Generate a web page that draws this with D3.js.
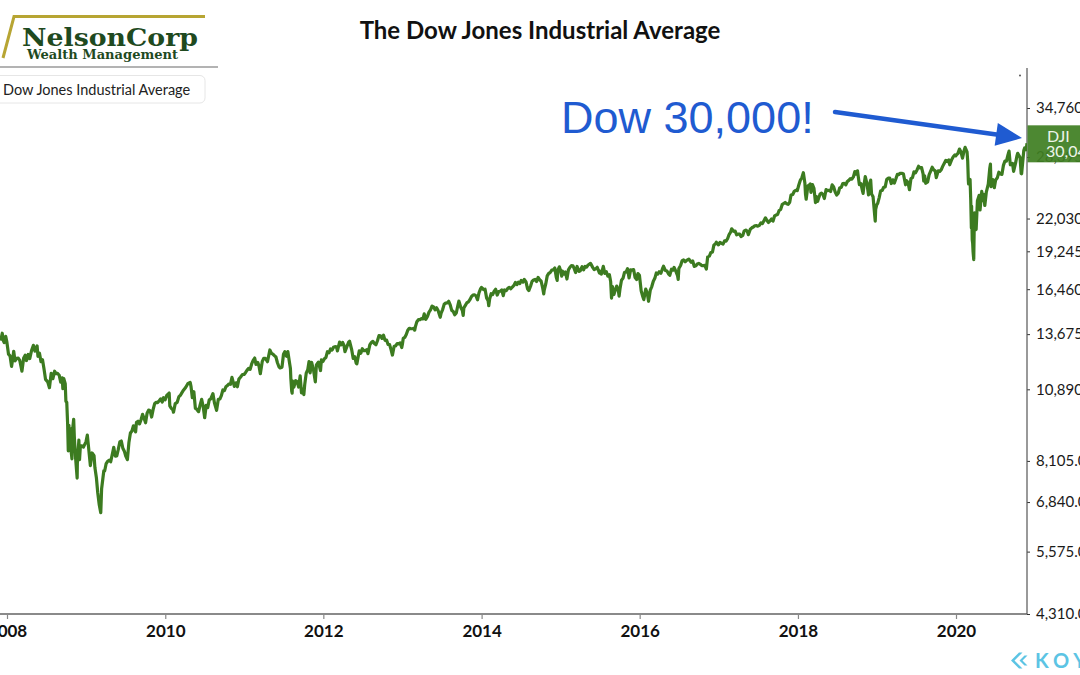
<!DOCTYPE html>
<html>
<head>
<meta charset="utf-8">
<script src="https://cdn.jsdelivr.net/npm/d3@7"></script>
<style>
  body { margin: 0; background: #fff; overflow: hidden; }
  svg { display: block; }
</style>
</head>
<body>
<div id="chart"></div>
<script>
var width = 1080,
    height = 675;

// Dow Jones Industrial Average closes (roughly weekly)
var dowCloses = [
  ["2007-12-03",13314],["2007-12-10",13727],["2007-12-14",13339],["2007-12-19",13207],["2007-12-26",13551],["2007-12-31",13265],
  ["2008-01-08",12589],["2008-01-15",12501],["2008-01-22",11971],["2008-01-28",12384],["2008-02-01",12743],["2008-02-07",12248],["2008-02-14",12376],["2008-02-22",12381],["2008-02-29",12266],["2008-03-07",11894],["2008-03-10",11740],["2008-03-18",12392],["2008-03-25",12533],["2008-03-31",12263],["2008-04-08",12577],["2008-04-15",12362],["2008-04-23",12763],["2008-05-02",13058],["2008-05-09",12745],["2008-05-19",13028],["2008-05-23",12480],["2008-05-30",12638],["2008-06-06",12209],["2008-06-13",12308],["2008-06-20",11843],["2008-06-27",11347],["2008-07-07",11231],["2008-07-15",10962],["2008-07-23",11632],["2008-07-31",11378],["2008-08-08",11734],["2008-08-14",11616],["2008-08-22",11628],["2008-08-29",11544],["2008-09-05",11220],["2008-09-12",11421],["2008-09-15",10918],["2008-09-19",11388],["2008-09-26",11143],["2008-09-29",10365],["2008-10-03",10325],["2008-10-07",9447],["2008-10-10",8451],["2008-10-13",9387],["2008-10-15",8578],["2008-10-20",9265],["2008-10-22",8519],["2008-10-27",8176],["2008-10-28",9065],["2008-11-04",9625],["2008-11-07",8943],["2008-11-12",8283],["2008-11-20",7552],["2008-11-21",8046],["2008-11-28",8829],["2008-12-01",8149],["2008-12-05",8635],["2008-12-12",8629],["2008-12-19",8579],["2008-12-31",8776],
  ["2009-01-06",9015],["2009-01-13",8474],["2009-01-20",7950],["2009-01-28",8375],["2009-02-06",8280],["2009-02-10",7888],["2009-02-17",7553],["2009-02-23",7115],["2009-03-02",6763],["2009-03-09",6547],["2009-03-13",7224],["2009-03-23",7776],["2009-03-27",7776],["2009-04-03",8018],["2009-04-09",8083],["2009-04-17",8131],["2009-04-24",8076],["2009-05-04",8426],["2009-05-08",8575],["2009-05-15",8268],["2009-05-22",8277],["2009-05-29",8500],["2009-06-05",8764],["2009-06-12",8799],["2009-06-19",8540],["2009-06-26",8438],["2009-07-02",8280],["2009-07-10",8146],["2009-07-17",8743],["2009-07-24",9093],["2009-07-31",9172],["2009-08-07",9370],["2009-08-17",9135],["2009-08-21",9506],["2009-08-28",9544],["2009-09-04",9441],["2009-09-11",9605],["2009-09-18",9820],["2009-09-25",9665],["2009-10-02",9488],["2009-10-09",9865],["2009-10-16",9996],["2009-10-23",9972],["2009-10-30",9713],["2009-11-06",10023],["2009-11-13",10270],["2009-11-20",10318],["2009-11-27",10310],["2009-12-04",10388],["2009-12-11",10471],["2009-12-18",10329],["2009-12-24",10520],["2009-12-31",10428],
  ["2010-01-08",10618],["2010-01-19",10725],["2010-01-22",10172],["2010-01-29",10067],["2010-02-05",10012],["2010-02-08",9908],["2010-02-16",10268],["2010-02-25",10321],["2010-03-05",10566],["2010-03-12",10624],["2010-03-19",10742],["2010-03-26",10850],["2010-04-05",10974],["2010-04-15",11144],["2010-04-26",11205],["2010-04-30",11009],["2010-05-06",10520],["2010-05-13",10782],["2010-05-20",10068],["2010-05-25",10043],["2010-06-04",9931],["2010-06-11",10211],["2010-06-18",10450],["2010-06-25",10144],["2010-07-02",9686],["2010-07-09",10198],["2010-07-16",10097],["2010-07-23",10424],["2010-07-30",10466],["2010-08-09",10698],["2010-08-16",10303],["2010-08-26",9985],["2010-09-03",10448],["2010-09-10",10462],["2010-09-17",10607],["2010-09-24",10860],["2010-10-01",10829],["2010-10-08",11006],["2010-10-15",11062],["2010-10-22",11132],["2010-10-29",11118],["2010-11-05",11444],["2010-11-16",11023],["2010-11-24",11187],["2010-11-30",11006],["2010-12-07",11359],["2010-12-15",11457],["2010-12-23",11573],["2010-12-31",11578],
  ["2011-01-07",11675],["2011-01-14",11787],["2011-01-21",11872],["2011-01-28",11824],["2011-02-04",12092],["2011-02-11",12273],["2011-02-18",12391],["2011-02-24",12068],["2011-03-04",12170],["2011-03-10",11984],["2011-03-16",11613],["2011-03-25",12221],["2011-04-01",12377],["2011-04-08",12380],["2011-04-18",12202],["2011-04-29",12811],["2011-05-06",12639],["2011-05-13",12596],["2011-05-20",12512],["2011-05-27",12442],["2011-06-03",12152],["2011-06-10",11952],["2011-06-15",11897],["2011-06-24",11934],["2011-07-01",12583],["2011-07-07",12719],["2011-07-15",12480],["2011-07-21",12724],["2011-07-29",12143],["2011-08-02",11867],["2011-08-04",11383],["2011-08-08",10810],["2011-08-10",10720],["2011-08-12",11269],["2011-08-18",10991],["2011-08-26",11285],["2011-09-02",11240],["2011-09-09",10992],["2011-09-16",11509],["2011-09-22",10733],["2011-09-30",10913],["2011-10-03",10655],["2011-10-07",11103],["2011-10-14",11644],["2011-10-21",11809],["2011-10-27",12209],["2011-11-01",11658],["2011-11-08",12170],["2011-11-17",11770],["2011-11-25",11231],["2011-11-30",12046],["2011-12-09",12184],["2011-12-19",11766],["2011-12-23",12295],["2011-12-30",12218],
  ["2012-01-06",12360],["2012-01-13",12422],["2012-01-20",12720],["2012-01-27",12660],["2012-02-03",12862],["2012-02-10",12801],["2012-02-17",12950],["2012-02-24",12983],["2012-03-02",12978],["2012-03-06",12759],["2012-03-16",13233],["2012-03-23",13081],["2012-03-30",13212],["2012-04-05",13060],["2012-04-10",12716],["2012-04-20",13029],["2012-04-27",13228],["2012-05-01",13279],["2012-05-11",12821],["2012-05-18",12369],["2012-05-25",12454],["2012-06-01",12119],["2012-06-04",12101],["2012-06-15",12767],["2012-06-22",12640],["2012-06-29",12880],["2012-07-06",12772],["2012-07-13",12777],["2012-07-20",12822],["2012-07-25",12617],["2012-08-03",13096],["2012-08-10",13207],["2012-08-17",13275],["2012-08-24",13158],["2012-08-31",13091],["2012-09-07",13306],["2012-09-14",13593],["2012-09-21",13579],["2012-09-28",13437],["2012-10-05",13610],["2012-10-12",13329],["2012-10-19",13344],["2012-10-26",13107],["2012-11-02",13093],["2012-11-09",12815],["2012-11-15",12543],["2012-11-23",13010],["2012-11-30",13026],["2012-12-07",13155],["2012-12-14",13135],["2012-12-21",13190],["2012-12-28",12938],["2012-12-31",13104],
  ["2013-01-04",13435],["2013-01-11",13488],["2013-01-18",13650],["2013-01-25",13896],["2013-02-01",14010],["2013-02-08",13993],["2013-02-15",13982],["2013-02-22",14001],["2013-02-26",13900],["2013-03-01",14090],["2013-03-08",14397],["2013-03-15",14515],["2013-03-22",14512],["2013-03-28",14579],["2013-04-05",14565],["2013-04-11",14865],["2013-04-18",14537],["2013-04-26",14712],["2013-05-03",14974],["2013-05-10",15118],["2013-05-17",15354],["2013-05-24",15303],["2013-05-31",15116],["2013-06-07",15248],["2013-06-14",15070],["2013-06-24",14660],["2013-06-28",14910],["2013-07-05",15136],["2013-07-12",15464],["2013-07-19",15544],["2013-07-26",15559],["2013-08-02",15659],["2013-08-09",15425],["2013-08-16",15082],["2013-08-23",15010],["2013-08-30",14810],["2013-09-06",14922],["2013-09-13",15376],["2013-09-18",15677],["2013-09-27",15258],["2013-10-04",15073],["2013-10-08",14776],["2013-10-11",15237],["2013-10-18",15400],["2013-10-25",15570],["2013-11-01",15615],["2013-11-08",15762],["2013-11-15",15962],["2013-11-22",16065],["2013-11-29",16086],["2013-12-06",16020],["2013-12-13",15755],["2013-12-20",16221],["2013-12-27",16479],["2013-12-31",16577],
  ["2014-01-10",16437],["2014-01-17",16459],["2014-01-24",15880],["2014-01-31",15699],["2014-02-03",15373],["2014-02-07",15795],["2014-02-14",16154],["2014-02-21",16104],["2014-02-28",16322],["2014-03-07",16453],["2014-03-14",16066],["2014-03-21",16303],["2014-03-28",16323],["2014-04-04",16413],["2014-04-11",16027],["2014-04-17",16409],["2014-04-25",16361],["2014-05-02",16513],["2014-05-09",16584],["2014-05-16",16492],["2014-05-23",16607],["2014-05-30",16717],["2014-06-06",16924],["2014-06-13",16776],["2014-06-20",16948],["2014-06-27",16851],["2014-07-03",17068],["2014-07-11",16944],["2014-07-17",17138],["2014-07-25",16961],["2014-08-01",16493],["2014-08-07",16369],["2014-08-15",16663],["2014-08-22",17001],["2014-08-29",17098],["2014-09-05",17138],["2014-09-12",16988],["2014-09-19",17280],["2014-09-26",17113],["2014-10-03",17010],["2014-10-10",16544],["2014-10-15",16142],["2014-10-17",16380],["2014-10-24",16805],["2014-10-31",17391],["2014-11-07",17574],["2014-11-14",17635],["2014-11-21",17810],["2014-11-28",17828],["2014-12-05",17959],["2014-12-12",17281],["2014-12-16",17068],["2014-12-19",17805],["2014-12-26",18054],["2014-12-31",17823],
  ["2015-01-06",17371],["2015-01-09",17738],["2015-01-16",17512],["2015-01-23",17673],["2015-01-30",17165],["2015-02-06",17825],["2015-02-13",18019],["2015-02-20",18140],["2015-02-27",18133],["2015-03-06",17857],["2015-03-11",17635],["2015-03-18",18076],["2015-03-27",17713],["2015-04-02",17763],["2015-04-10",18058],["2015-04-17",17827],["2015-04-24",18080],["2015-05-01",18024],["2015-05-08",18191],["2015-05-19",18312],["2015-05-29",18011],["2015-06-05",17849],["2015-06-12",17899],["2015-06-19",18016],["2015-06-29",17596],["2015-07-02",17730],["2015-07-08",17515],["2015-07-17",18086],["2015-07-24",17569],["2015-07-31",17690],["2015-08-07",17373],["2015-08-14",17477],["2015-08-20",16990],["2015-08-24",15871],["2015-08-28",16643],["2015-09-04",16102],["2015-09-11",16433],["2015-09-17",16675],["2015-09-25",16315],["2015-09-28",16001],["2015-10-02",16472],["2015-10-09",17084],["2015-10-16",17216],["2015-10-23",17646],["2015-10-30",17664],["2015-11-06",17910],["2015-11-13",17245],["2015-11-20",17824],["2015-11-27",17798],["2015-12-04",17848],["2015-12-11",17265],["2015-12-18",17128],["2015-12-24",17553],["2015-12-31",17425],
  ["2016-01-08",16347],["2016-01-15",15988],["2016-01-20",15766],["2016-01-29",16466],["2016-02-05",16205],["2016-02-11",15660],["2016-02-19",16392],["2016-02-26",16640],["2016-03-04",17007],["2016-03-11",17213],["2016-03-18",17602],["2016-03-24",17516],["2016-03-31",17685],["2016-04-08",17577],["2016-04-15",17897],["2016-04-20",18096],["2016-04-29",17774],["2016-05-06",17741],["2016-05-13",17535],["2016-05-19",17435],["2016-05-27",17873],["2016-06-03",17807],["2016-06-08",18005],["2016-06-16",17733],["2016-06-24",17400],["2016-06-27",17140],["2016-06-30",17930],["2016-07-08",18147],["2016-07-15",18517],["2016-07-22",18571],["2016-07-29",18432],["2016-08-05",18543],["2016-08-15",18636],["2016-08-19",18552],["2016-08-26",18395],["2016-09-02",18492],["2016-09-09",18085],["2016-09-16",18124],["2016-09-23",18261],["2016-09-30",18308],["2016-10-07",18240],["2016-10-14",18138],["2016-10-21",18145],["2016-10-28",18161],["2016-11-04",17888],["2016-11-10",18807],["2016-11-18",18868],["2016-11-25",19153],["2016-12-02",19171],["2016-12-09",19757],["2016-12-16",19843],["2016-12-20",19975],["2016-12-30",19763],
  ["2017-01-06",19964],["2017-01-13",19885],["2017-01-20",19827],["2017-01-27",20094],["2017-02-03",20071],["2017-02-10",20269],["2017-02-17",20625],["2017-02-24",20822],["2017-03-01",21116],["2017-03-10",20903],["2017-03-17",20915],["2017-03-24",20597],["2017-03-31",20663],["2017-04-07",20656],["2017-04-13",20453],["2017-04-21",20548],["2017-04-28",20941],["2017-05-05",21007],["2017-05-12",20897],["2017-05-17",20607],["2017-05-26",21080],["2017-06-02",21206],["2017-06-09",21272],["2017-06-16",21384],["2017-06-23",21395],["2017-06-30",21350],["2017-07-07",21414],["2017-07-14",21638],["2017-07-21",21580],["2017-07-28",21830],["2017-08-04",22093],["2017-08-11",21858],["2017-08-18",21675],["2017-08-25",21814],["2017-09-01",21988],["2017-09-08",21798],["2017-09-15",22268],["2017-09-22",22350],["2017-09-29",22405],["2017-10-06",22774],["2017-10-13",22871],["2017-10-20",23329],["2017-10-27",23434],["2017-11-03",23539],["2017-11-10",23422],["2017-11-17",23358],["2017-11-24",23558],["2017-11-30",24272],["2017-12-08",24329],["2017-12-15",24651],["2017-12-22",24754],["2017-12-29",24719],
  ["2018-01-05",25296],["2018-01-12",25803],["2018-01-19",26072],["2018-01-26",26617],["2018-02-02",25521],["2018-02-05",24346],["2018-02-08",23860],["2018-02-16",25219],["2018-02-23",25310],["2018-02-27",25410],["2018-03-02",24538],["2018-03-09",25336],["2018-03-16",24946],["2018-03-23",23533],["2018-03-29",24103],["2018-04-02",23644],["2018-04-06",23933],["2018-04-13",24360],["2018-04-20",24463],["2018-04-27",24311],["2018-05-03",23930],["2018-05-11",24831],["2018-05-18",24715],["2018-05-25",24753],["2018-06-01",24635],["2018-06-08",25317],["2018-06-15",25090],["2018-06-22",24581],["2018-06-29",24271],["2018-07-06",24456],["2018-07-13",25019],["2018-07-20",25058],["2018-07-27",25451],["2018-08-03",25463],["2018-08-10",25313],["2018-08-17",25669],["2018-08-24",25790],["2018-08-31",25965],["2018-09-07",25917],["2018-09-14",26155],["2018-09-21",26744],["2018-09-28",26458],["2018-10-03",26828],["2018-10-10",25599],["2018-10-12",25340],["2018-10-19",25444],["2018-10-26",24688],["2018-10-29",24443],["2018-11-02",25271],["2018-11-08",26191],["2018-11-16",25413],["2018-11-23",24286],["2018-11-30",25538],["2018-12-03",25826],["2018-12-07",24389],["2018-12-14",24101],["2018-12-21",22445],["2018-12-24",21792],["2018-12-26",22878],["2018-12-31",23327],
  ["2019-01-04",23433],["2019-01-11",23996],["2019-01-18",24706],["2019-01-25",24737],["2019-02-01",25064],["2019-02-08",25106],["2019-02-15",25883],["2019-02-22",26031],["2019-03-01",26026],["2019-03-08",25450],["2019-03-15",25849],["2019-03-22",25502],["2019-03-29",25929],["2019-04-05",26425],["2019-04-12",26412],["2019-04-18",26559],["2019-04-26",26543],["2019-05-03",26505],["2019-05-13",25324],["2019-05-17",25764],["2019-05-24",25586],["2019-05-31",24815],["2019-06-07",25984],["2019-06-14",26090],["2019-06-21",26719],["2019-06-28",26600],["2019-07-05",26922],["2019-07-12",27332],["2019-07-19",27154],["2019-07-26",27192],["2019-08-02",26485],["2019-08-05",25718],["2019-08-09",26287],["2019-08-14",25479],["2019-08-23",25629],["2019-08-30",26403],["2019-09-06",26797],["2019-09-13",27220],["2019-09-20",26935],["2019-09-27",26820],["2019-10-02",26078],["2019-10-11",26817],["2019-10-18",26770],["2019-10-25",26958],["2019-11-01",27347],["2019-11-08",27681],["2019-11-15",28005],["2019-11-22",27876],["2019-11-29",28051],["2019-12-03",27503],["2019-12-13",28135],["2019-12-20",28455],["2019-12-27",28645],["2019-12-31",28538],
  ["2020-01-03",28635],["2020-01-10",28824],["2020-01-17",29348],["2020-01-24",28990],["2020-01-31",28256],["2020-02-07",29103],["2020-02-12",29551],["2020-02-21",28992],["2020-02-24",27961],["2020-02-27",25767],["2020-02-28",25409],["2020-03-03",25917],["2020-03-06",25865],["2020-03-09",23851],["2020-03-12",21200],["2020-03-13",23186],["2020-03-16",20189],["2020-03-18",19899],["2020-03-20",19174],["2020-03-23",18592],["2020-03-26",22552],["2020-03-31",21917],["2020-04-03",21053],["2020-04-09",23719],["2020-04-17",24242],["2020-04-21",22820],["2020-04-29",24634],["2020-05-01",23724],["2020-05-08",24331],["2020-05-13",23248],["2020-05-20",24576],["2020-05-29",25383],["2020-06-05",27111],["2020-06-08",27572],["2020-06-11",25128],["2020-06-19",25871],["2020-06-26",25016],["2020-07-02",25827],["2020-07-10",26075],["2020-07-17",26672],["2020-07-24",26470],["2020-07-31",26428],["2020-08-07",27433],["2020-08-14",27931],["2020-08-21",27930],["2020-08-28",28654],["2020-09-02",29100],["2020-09-08",27501],["2020-09-18",27657],["2020-09-23",26763],["2020-10-02",27683],["2020-10-09",28587],["2020-10-12",28837],["2020-10-23",28336],["2020-10-28",26520],["2020-10-30",26502],["2020-11-06",28323],["2020-11-09",29158],["2020-11-13",29480],["2020-11-20",29263],["2020-11-24",30046]
];

var yTicks = [4310, 5575, 6840, 8105, 10890, 13675, 16460, 19245, 22030, 28395, 34760];
var xTickYears = [2008, 2010, 2012, 2014, 2016, 2018, 2020];
var lastClose = 30046.24;

var parseDate = d3.timeParse("%Y-%m-%d");
var data = dowCloses.map(function(d) { return {date: parseDate(d[0]), value: d[1]}; });

var svg = d3.select("#chart").append("svg")
    .attr("width", width)
    .attr("height", height);

var plotRight = 1027, plotTop = 68, plotBottom = 614;

var x = d3.scaleTime()
    .domain([new Date(2008, 0, 1), new Date(2020, 0, 1)])
    .range([7, 956]);
var y = d3.scaleLog()
    .domain([4310, 34760])
    .range([614, 108]);

// ---- logo (top left)
svg.append("path")
    .attr("d", "M3,58 L14,16.5 L205,16.5")
    .attr("fill", "none")
    .attr("stroke", "#b7a533")
    .attr("stroke-width", 3);
svg.append("text")
    .attr("x", 22).attr("y", 45.5)
    .attr("textLength", 176).attr("lengthAdjust", "spacingAndGlyphs")
    .style("font-family", "'DejaVu Serif', serif")
    .style("font-weight", "bold")
    .style("font-size", "24px")
    .style("fill", "#1f4a1f")
    .text("NelsonCorp");
svg.append("text")
    .attr("x", 27).attr("y", 58.5)
    .attr("textLength", 151).attr("lengthAdjust", "spacingAndGlyphs")
    .style("font-family", "'DejaVu Serif', serif")
    .style("font-weight", "bold")
    .style("font-size", "12.5px")
    .style("fill", "#1f4a1f")
    .text("Wealth Management");
svg.append("line")
    .attr("x1", 0).attr("x2", 218)
    .attr("y1", 67).attr("y2", 67)
    .attr("stroke", "#9a9a9a")
    .attr("stroke-width", 1.5);

// ---- title
svg.append("text")
    .attr("x", 540).attr("y", 39)
    .attr("text-anchor", "middle")
    .style("font-family", "Lato, sans-serif")
    .style("font-weight", "bold")
    .style("font-size", "24px")
    .style("fill", "#111")
    .text("The Dow Jones Industrial Average");

// ---- legend box
svg.append("rect")
    .attr("x", -6).attr("y", 75.5)
    .attr("width", 211).attr("height", 27.5)
    .attr("rx", 5)
    .attr("fill", "#fff")
    .attr("stroke", "#e6e6e6");
svg.append("text")
    .attr("x", 3).attr("y", 94.5)
    .style("font-family", "Lato, sans-serif")
    .style("font-size", "14.5px")
    .style("fill", "#222")
    .text("Dow Jones Industrial Average");

// ---- axes
var xAxis = d3.axisBottom(x)
    .tickValues(xTickYears.map(function(yr) { return new Date(yr, 0, 1); }))
    .tickFormat(d3.timeFormat("%Y"))
    .tickSize(5)
    .tickPadding(6);
var gx = svg.append("g")
    .attr("transform", "translate(0," + plotBottom + ")")
    .call(xAxis);
gx.select(".domain").remove();
gx.selectAll(".tick line").attr("stroke", "#888").attr("stroke-width", 1.2);
gx.selectAll(".tick text")
    .style("font-family", "Lato, sans-serif")
    .style("font-weight", "bold")
    .style("font-size", "17px")
    .style("fill", "#111");
svg.append("line")
    .attr("x1", 0).attr("x2", plotRight)
    .attr("y1", plotBottom).attr("y2", plotBottom)
    .attr("stroke", "#8a8a8a")
    .attr("stroke-width", 2);

var yAxis = d3.axisRight(y)
    .tickValues(yTicks)
    .tickFormat(d3.format(",.2f"))
    .tickSize(3)
    .tickPadding(6);
var gy = svg.append("g")
    .attr("transform", "translate(" + plotRight + ",0)")
    .call(yAxis);
gy.select(".domain").remove();
gy.selectAll(".tick line").attr("stroke", "#333");
gy.selectAll(".tick text")
    .style("font-family", "Lato, sans-serif")
    .style("font-size", "15px")
    .style("fill", "#1a1a1a");
svg.append("line")
    .attr("x1", plotRight).attr("x2", plotRight)
    .attr("y1", plotTop).attr("y2", plotBottom)
    .attr("stroke", "#555")
    .attr("stroke-width", 1.2);
svg.append("circle")
    .attr("cx", 1020).attr("cy", 75.5).attr("r", 0.9)
    .attr("fill", "#444");

// ---- the line
svg.append("clipPath").attr("id", "plotClip")
  .append("rect")
    .attr("x", 0).attr("y", plotTop)
    .attr("width", plotRight).attr("height", plotBottom - plotTop);

var line = d3.line()
    .x(function(d) { return x(d.date); })
    .y(function(d) { return y(d.value); });

svg.append("path")
    .datum(data)
    .attr("clip-path", "url(#plotClip)")
    .attr("fill", "none")
    .attr("stroke", "#3c7b20")
    .attr("stroke-width", 3.2)
    .attr("stroke-linejoin", "round")
    .attr("d", line);

// ---- last value tag
var tagY = y(lastClose);
svg.append("rect")
    .attr("x", plotRight + 0.5).attr("y", tagY - 18)
    .attr("width", 60).attr("height", 37)
    .attr("fill", "#3f7f22")
    .attr("fill-opacity", 0.93);
svg.append("text")
    .attr("x", 1047).attr("y", tagY - 1.5)
    .style("font-family", "Lato, sans-serif")
    .style("font-size", "16px")
    .style("fill", "#eef5ea")
    .text("DJI");
svg.append("text")
    .attr("x", 1046).attr("y", tagY + 14)
    .style("font-family", "Lato, sans-serif")
    .style("font-size", "16px")
    .style("fill", "#eef5ea")
    .text(d3.format(",.2f")(lastClose));

// ---- annotation
svg.append("text")
    .attr("x", 561).attr("y", 132.5)
    .style("font-family", "'Liberation Sans', Arial, sans-serif")
    .style("font-size", "45px")
    .style("fill", "#1f5bd1")
    .text("Dow 30,000!");

var a0 = [835, 112], a1 = [1022, 138];
var ang = Math.atan2(a1[1] - a0[1], a1[0] - a0[0]);
var headLen = 26, headHalf = 11.5;
var bx = a1[0] - headLen * Math.cos(ang), by = a1[1] - headLen * Math.sin(ang);
svg.append("line")
    .attr("x1", a0[0]).attr("y1", a0[1])
    .attr("x2", bx + 2 * Math.cos(ang)).attr("y2", by + 2 * Math.sin(ang))
    .attr("stroke", "#1f5bd1")
    .attr("stroke-width", 4.5)
    .attr("stroke-linecap", "round");
svg.append("path")
    .attr("d", "M" + a1[0] + "," + a1[1] +
               "L" + (bx + headHalf * Math.sin(ang)) + "," + (by - headHalf * Math.cos(ang)) +
               "L" + (bx - headHalf * Math.sin(ang)) + "," + (by + headHalf * Math.cos(ang)) + "Z")
    .attr("fill", "#1f5bd1");

// ---- Koyfin mark (bottom right)
var koy = svg.append("g").attr("fill", "#5cc4e4");
koy.append("path").attr("d", "M1019,652.5 L1011,660.5 L1019,668.5 L1022.5,668.5 L1014.5,660.5 L1022.5,652.5 Z");
koy.append("path").attr("d", "M1024.5,655.5 L1019.5,660.5 L1024.5,665.5 L1027.5,665.5 L1022.5,660.5 L1027.5,655.5 Z");
koy.append("text")
    .attr("x", 1035).attr("y", 668)
    .style("font-family", "Lato, sans-serif")
    .style("font-weight", "bold")
    .style("font-size", "20px")
    .style("letter-spacing", "5px")
    .text("KOYFIN");
</script>
</body>
</html>
